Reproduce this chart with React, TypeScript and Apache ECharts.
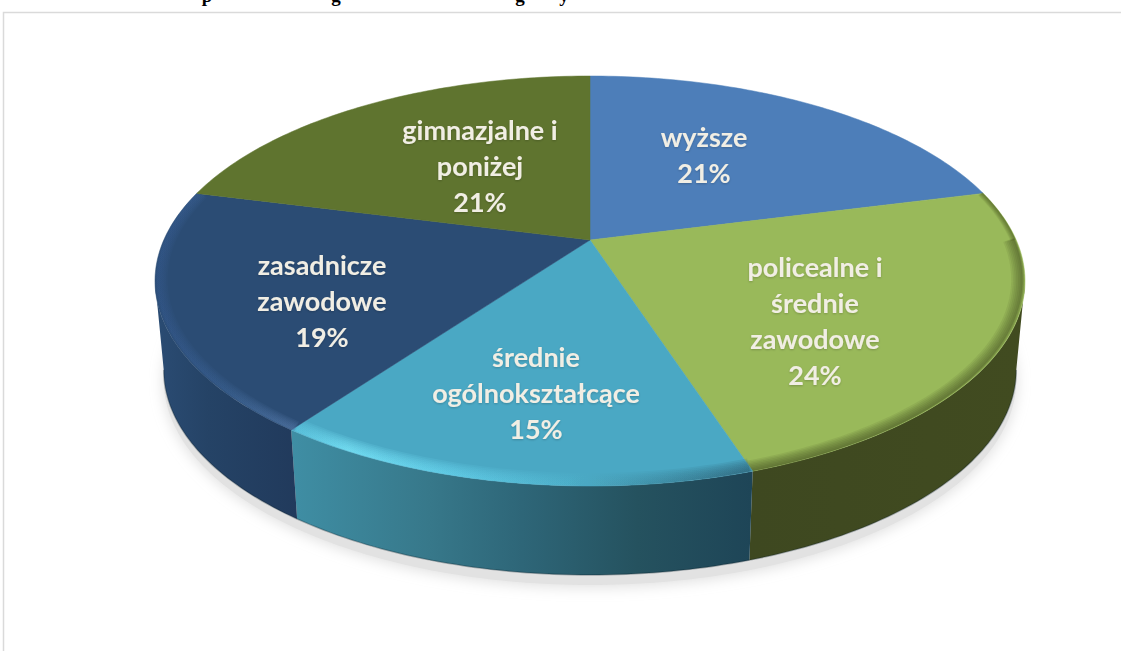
import React, { useEffect, useRef } from "react";
import * as echarts from "echarts";

const CATEGORIES = ["wyższe", "policealne i\nśrednie\nzawodowe", "średnie\nogólnokształcące", "zasadnicze\nzawodowe", "gimnazjalne i\nponiżej"];
const VALUES = [21, 24, 15, 19, 21];
const TOP_COLORS = ["#4d7eb9", "#99b95a", "#4aa8c4", "#2b4c74", "#5f742f"];
const HEADING_GLYPHS = ["p", "g", "g", "y"];

// layout of the projected disc
const CX = 590, APEX_Y = 240, K = -0.2, RX = 426.2, RY = 196.8, DEPTH = 89, BOTTOM_SCALE = 0.98;
const LABEL_AT = [[704, 154], [815, 320], [536, 392], [322, 300], [480, 165]];
const HEADING_X = [207, 336, 520, 564];
const WALL_FROM = 101.5, WALL_TO = 258.5; // silhouette tangents of the disc

const TOTAL = VALUES.reduce((a, b) => a + b, 0);
const starts = VALUES.map((_, i) => VALUES.slice(0, i).reduce((a, b) => a + b, 0) / TOTAL * 360);
const ends = VALUES.map((_, i) => VALUES.slice(0, i + 1).reduce((a, b) => a + b, 0) / TOTAL * 360);

function project(deg: number, r = 1, bottom = false): number[] {
  const t = (deg * Math.PI) / 180;
  const u = Math.sin(t) * r, v = -Math.cos(t) * r;
  const w = 1 + K * v;
  const sx = bottom ? BOTTOM_SCALE : 1;
  return [CX + (RX * sx * u) / w, APEX_Y + (RY * v) / w + (bottom ? DEPTH : 0)];
}
function arc(a: number, b: number, r = 1, bottom = false): number[][] {
  const n = Math.max(2, Math.ceil(Math.abs(b - a)));
  const pts: number[][] = [];
  for (let i = 0; i <= n; i++) pts.push(project(a + ((b - a) * i) / n, r, bottom));
  return pts;
}
const hGrad = (x0: number, x1: number, stops: [number, string][]) =>
  new echarts.graphic.LinearGradient(x0, 0, x1, 0, stops.map(([offset, color]) => ({ offset, color })), true);

const WALL_FILL = [
  () => "#40491f",
  () => hGrad(750, 1020, [[0, "#3e4820"], [1, "#414b20"]]),
  () => hGrad(292, 752, [[0, "#3f8ea4"], [0.3, "#37788a"], [0.5, "#2e6678"], [0.75, "#25525f"], [1, "#1e4557"]]),
  () => hGrad(160, 297, [[0, "#2a4b72"], [0.35, "#254366"], [1, "#213a5c"]]),
  () => "#40491f",
];

// soft band hugging the rim, stacked from thin translucent strokes
function soft(a: number, b: number, width: number, stroke: () => any, peak: number, inset = 0): any[] {
  const n = 8;
  const out: any[] = [];
  for (let k = 1; k <= n; k++) {
    const w = (width * k) / n;
    const r = 1 - (w / 2 + inset) / 300;
    out.push({
      type: "polyline",
      shape: { points: arc(a, b, r) },
      style: { fill: "none", stroke: stroke(), lineWidth: w, opacity: peak / n * 1.4, lineCap: "butt" },
    });
  }
  return out;
}

function bandsFor(i: number): any[] {
  const a = starts[i], b = ends[i];
  if (i === 1) {
    const dark = () => "#3c461c";
    return [...soft(90, b, 11, dark, 0.55), ...soft(a, 90, 5, dark, 0.5)];
  }
  if (i === 2) {
    const g = () => hGrad(292, 752, [[0, "#5cc6e0"], [0.12, "#7eecff"], [0.35, "#66d4ee"], [0.6, "#4fb2cc"], [0.82, "#3a8298"], [1, "#2a5a6e"]]);
    return [...soft(a, b, 13, g, 0.85)];
  }
  if (i === 3) {
    const g = () => hGrad(160, 292, [[0, "#33578a"], [0.5, "#3a6090"], [1, "#5478a8"]]);
    return [...soft(a, b, 10, g, 0.8)];
  }
  return [];
}

const renderShadow = () => ({
  type: "polygon",
  shape: { points: arc(0, 360, 1, true).map(([x, y]) => [x, y + 10]) },
  style: { fill: "#e2e2e2", shadowBlur: 14, shadowColor: "#dedede", shadowOffsetY: 2 },
});

const renderWall = (params: any) => {
  const i = params.dataIndex;
  const a = Math.max(starts[i], WALL_FROM), b = Math.min(ends[i], WALL_TO);
  if (b <= a) return null;
  const top = arc(a, b);
  const bot = arc(a, b, 1, true);
  return {
    type: "group",
    children: [
      { type: "polygon", shape: { points: [...top, ...bot.slice().reverse()] }, style: { fill: WALL_FILL[i]() } },
      { type: "polyline", shape: { points: bot }, style: { fill: "none", stroke: "rgba(10,30,40,0.3)", lineWidth: 1.5 } },
    ],
  };
};

const renderTop = (params: any) => {
  const i = params.dataIndex;
  return {
    type: "group",
    children: [
      {
        type: "polygon",
        shape: { points: [[CX, APEX_Y], ...arc(starts[i], ends[i])] },
        style: { fill: TOP_COLORS[i], stroke: TOP_COLORS[i], lineWidth: 0.5 },
      },
      ...bandsFor(i),
    ],
  };
};

const renderLabel = (params: any, api: any) => {
  const i = params.dataIndex;
  return {
    type: "text",
    x: LABEL_AT[i][0],
    y: LABEL_AT[i][1],
    style: {
      text: `${CATEGORIES[i]}\n${api.value(0)}%`,
      fill: "#f1eee4",
      font: 'bold 27px Lato, "Open Sans", sans-serif',
      lineHeight: 36,
      align: "center",
      verticalAlign: "middle",
      textShadowBlur: 2,
      textShadowColor: "rgba(0,0,0,0.2)",
      textShadowOffsetY: 1,
    },
  };
};

export default function App() {
  const ref = useRef<HTMLDivElement>(null);
  useEffect(() => {
    document.body.style.margin = "0";
    const chart = echarts.init(ref.current!, undefined, { renderer: "svg" });
    const data = VALUES.map((v) => [v]);
    const series = (renderItem: any, z: number, d: any[] = data) => ({
      type: "custom",
      coordinateSystem: "none",
      renderItem,
      data: d,
      z,
      silent: true,
      clip: false,
    });
    chart.setOption({
      animation: false,
      backgroundColor: "#ffffff",
      graphic: [
        { type: "rect", shape: { x: 3.5, y: 12.5, width: 1300, height: 900 }, style: { fill: "none", stroke: "#dadada", lineWidth: 1.5 } },
        ...HEADING_GLYPHS.map((g, i) => ({
          type: "text",
          x: HEADING_X[i],
          y: 5,
          style: { text: g, fill: "#000", font: 'bold 19px "Liberation Serif", serif', align: "center", verticalAlign: "bottom" },
        })),
      ],
      series: [
        series(renderShadow, 1, [[0]]),
        series(renderWall, 2),
        series(renderTop, 3),
        series(renderLabel, 4),
      ],
    });
    return () => chart.dispose();
  }, []);
  return <div ref={ref} style={{ width: 1121, height: 651 }} />;
}
